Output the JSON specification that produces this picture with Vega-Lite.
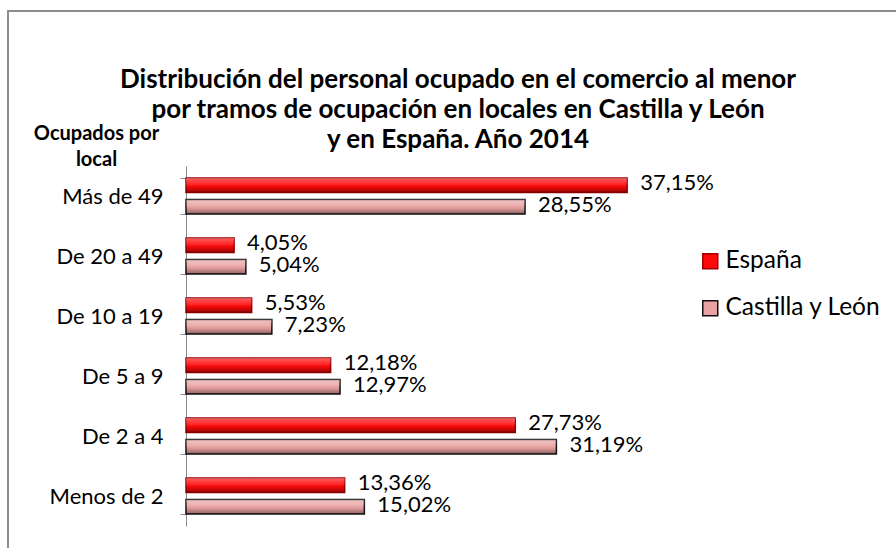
{
  "$schema": "https://vega.github.io/schema/vega-lite/v6.json",
  "width": 900,
  "height": 540,
  "padding": {"left": 8, "top": 0, "right": 0, "bottom": 0},
  "background": "white",
  "config": {
    "font": "Lato",
    "view": {"stroke": "#8c8c8c", "strokeWidth": 2},
    "axis": {"labelFont": "Lato", "titleFont": "Lato"},
    "legend": {"labelFont": "Lato"}
  },
  "title": {
    "text": ["Distribución del personal ocupado en el comercio al menor", "por tramos de ocupación en locales en Castilla y León", "y en España. Año 2014"],
    "anchor": "middle",
    "frame": "group",
    "fontSize": 26,
    "fontWeight": "bold",
    "font": "Lato",
    "color": "black",
    "lineHeight": 30,
    "baseline": "top",
    "offset": -153
  },
  "data": {
    "values": [
      {"tramo": "Más de 49", "serie": "España", "valor": 37.15},
      {"tramo": "Más de 49", "serie": "Castilla y León", "valor": 28.55},
      {"tramo": "De 20 a 49", "serie": "España", "valor": 4.05},
      {"tramo": "De 20 a 49", "serie": "Castilla y León", "valor": 5.04},
      {"tramo": "De 10 a 19", "serie": "España", "valor": 5.53},
      {"tramo": "De 10 a 19", "serie": "Castilla y León", "valor": 7.23},
      {"tramo": "De 5 a 9", "serie": "España", "valor": 12.18},
      {"tramo": "De 5 a 9", "serie": "Castilla y León", "valor": 12.97},
      {"tramo": "De 2 a 4", "serie": "España", "valor": 27.73},
      {"tramo": "De 2 a 4", "serie": "Castilla y León", "valor": 31.19},
      {"tramo": "Menos de 2", "serie": "España", "valor": 13.36},
      {"tramo": "Menos de 2", "serie": "Castilla y León", "valor": 15.02}
    ]
  },
  "transform": [
    {"calculate": "replace(format(datum.valor, '.2f'), '.', ',') + '%'", "as": "etiqueta"}
  ],
  "encoding": {
    "y": {
      "field": "tramo",
      "type": "nominal",
      "sort": ["Más de 49", "De 20 a 49", "De 10 a 19", "De 5 a 9", "De 2 a 4", "Menos de 2"],
      "scale": {"range": [155, 515], "paddingInner": 0.4, "paddingOuter": 0.2},
      "axis": {
        "orient": "left",
        "offset": -178,
        "tickBand": "extent",
        "tickSize": 6,
        "tickColor": "#8c8c8c",
        "domainColor": "#8c8c8c",
        "labelFontSize": 22,
        "labelColor": "black",
        "labelPadding": 17,
        "title": ["Ocupados por", "local"],
        "titleFontSize": 20,
        "titleFontWeight": "bold",
        "titleColor": "black",
        "titleAngle": 0,
        "titleAlign": "center",
        "titleBaseline": "alphabetic",
        "titleLineHeight": 26,
        "titleX": -90,
        "titleY": 128
      }
    },
    "yOffset": {
      "field": "serie",
      "type": "nominal",
      "sort": ["España", "Castilla y León"],
      "scale": {"paddingInner": 0.33, "paddingOuter": 0}
    },
    "x": {
      "field": "valor",
      "type": "quantitative",
      "scale": {"domain": [0, 40], "range": [178, 653], "nice": false, "zero": true},
      "axis": null
    }
  },
  "layer": [
    {
      "mark": {"type": "bar", "strokeWidth": 1.5},
      "encoding": {
        "color": {
          "field": "serie",
          "type": "nominal",
          "sort": ["España", "Castilla y León"],
          "scale": {"domain": ["España", "Castilla y León"], "range": ["#ff0a0a", "#eaa3a3"]},
          "legend": {
            "title": null,
            "orient": "none",
            "legendX": 690,
            "legendY": 238,
            "symbolType": "square",
            "symbolSize": 225,
            "symbolStrokeWidth": 1.5,
            "labelFontSize": 24.5,
            "labelColor": "black",
            "labelOffset": 3,
            "rowPadding": 22
          }
        },
        "stroke": {
          "field": "serie",
          "type": "nominal",
          "sort": ["España", "Castilla y León"],
          "scale": {"domain": ["España", "Castilla y León"], "range": ["#a00000", "#111111"]},
          "legend": null
        }
      }
    },
    {
      "mark": {
        "type": "bar",
        "fill": {
          "gradient": "linear",
          "x1": 0, "y1": 0, "x2": 0, "y2": 1,
          "stops": [
            {"offset": 0, "color": "rgba(255,255,255,0.35)"},
            {"offset": 0.45, "color": "rgba(255,255,255,0.1)"},
            {"offset": 0.6, "color": "rgba(0,0,0,0.05)"},
            {"offset": 1, "color": "rgba(0,0,0,0.4)"}
          ]
        }
      }
    },
    {
      "mark": {"type": "text", "align": "left", "baseline": "middle", "dx": 13, "dy": -2, "fontSize": 22, "color": "black"},
      "encoding": {"text": {"field": "etiqueta"}}
    }
  ]
}
